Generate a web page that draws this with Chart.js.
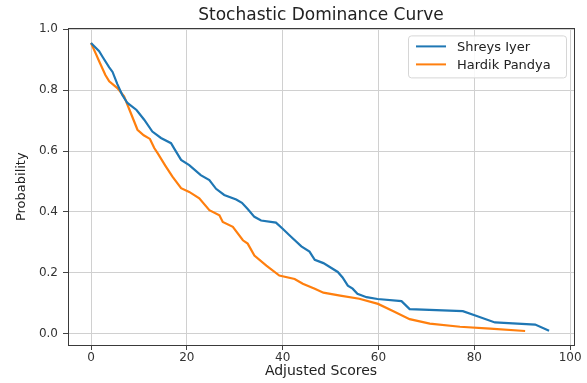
<!DOCTYPE html>
<html>
<head>
<meta charset="utf-8">
<script src="https://cdn.jsdelivr.net/npm/chart.js@4.4.1/dist/chart.umd.min.js"></script>
<style>
  html, body { margin: 0; padding: 0; background: #fff; }
  #wrap { width: 587px; height: 383px; }
</style>
</head>
<body>
<div id="wrap"><canvas id="curveChart" width="587" height="383"></canvas></div>
<script>
// Stochastic dominance (survival) curves
const iyerScores = [0, 1.7, 2.4, 3.8, 4.5, 5.5, 6.5, 7.6, 9.5, 11.1, 12.8, 14.6, 16.7, 17.5, 18.8, 20.5,
  22.9, 24.7, 26.1, 27.8, 30.3, 31.5, 32.7, 34.1, 35.5, 38.6, 40, 41.8, 43.9, 45.6, 46.7, 48.5,
  51.5, 52.5, 53.6, 54.6, 55.6, 57.5, 59.8, 64.8, 66.5, 77.6, 80.5, 84.3, 92.7, 95.6];
const iyerProb = [0.955, 0.928, 0.91, 0.875, 0.86, 0.82, 0.785, 0.758, 0.735, 0.703, 0.664, 0.643, 0.626, 0.605, 0.571, 0.554,
  0.521, 0.505, 0.476, 0.456, 0.441, 0.43, 0.41, 0.384, 0.372, 0.365, 0.345, 0.318, 0.287, 0.27, 0.243, 0.232,
  0.203, 0.185, 0.158, 0.148, 0.131, 0.12, 0.114, 0.107, 0.081, 0.074, 0.058, 0.037, 0.03, 0.01];

const pandyaScores = [0, 1.0, 1.7, 3.0, 3.8, 5.5, 6.9, 8.3, 9.7, 11.0, 12.3, 13.2, 13.9, 15.6, 17.0, 18.8,
  20.5, 22.6, 24.7, 26.8, 27.5, 29.6, 31.7, 32.7, 34.1, 36.6, 39.3, 42.5, 44.2, 46.7, 48.5, 52,
  56, 59.9, 63, 66.5, 70.7, 77, 83.3, 90.6];
const pandyaProb = [0.955, 0.92, 0.895, 0.85, 0.829, 0.807, 0.78, 0.725, 0.67, 0.652, 0.64, 0.61, 0.593, 0.55, 0.516, 0.478,
  0.466, 0.445, 0.406, 0.389, 0.367, 0.351, 0.307, 0.296, 0.257, 0.224, 0.191, 0.18, 0.164, 0.148, 0.135, 0.125,
  0.115, 0.098, 0.075, 0.048, 0.033, 0.023, 0.017, 0.009];

const seriesNames = ['Shreys Iyer', 'Hardik Pandya'];
const xTicks = [0, 20, 40, 60, 80, 100];
const yTicks = [0, 0.2, 0.4, 0.6, 0.8, 1.0];

const toPoints = (xs, ys) => xs.map((x, i) => ({ x: x, y: ys[i] }));
const FONT = "'DejaVu Sans', sans-serif";

// matplotlib-style full frame around the plot
const framePlugin = {
  id: 'frame',
  afterDatasetsDraw(chart) {
    const { ctx, chartArea: a } = chart;
    ctx.save();
    ctx.strokeStyle = '#3a3a3a';
    ctx.lineWidth = 1;
    ctx.strokeRect(Math.round(a.left) + 0.5, Math.round(a.top) + 0.5,
      Math.round(a.right - a.left), Math.round(a.bottom - a.top));
    ctx.restore();
  }
};

// boxed legend in the upper right corner
const boxLegend = {
  id: 'boxLegend',
  afterDraw(chart) {
    const { ctx, chartArea: a } = chart;
    const x0 = a.right - 166, y0 = a.top + 7, w = 158, h = 42;
    ctx.save();
    ctx.beginPath();
    ctx.roundRect(x0 + 0.5, y0 + 0.5, w, h, 3);
    ctx.fillStyle = 'rgba(255,255,255,0.85)';
    ctx.fill();
    ctx.strokeStyle = '#d6d6d6';
    ctx.lineWidth = 1;
    ctx.stroke();
    ctx.font = '13px ' + FONT;
    ctx.textBaseline = 'middle';
    chart.data.datasets.forEach((ds, i) => {
      const cy = y0 + 11 + i * 18;
      ctx.strokeStyle = ds.borderColor;
      ctx.lineWidth = 2;
      ctx.beginPath();
      ctx.moveTo(x0 + 8, cy);
      ctx.lineTo(x0 + 38, cy);
      ctx.stroke();
      ctx.fillStyle = '#222';
      ctx.fillText(ds.label, x0 + 49, cy + 1);
    });
    ctx.restore();
  }
};

new Chart(document.getElementById('curveChart'), {
  type: 'line',
  data: {
    datasets: [
      {
        label: seriesNames[0],
        data: toPoints(iyerScores, iyerProb),
        borderColor: '#1f77b4',
        borderWidth: 2.2,
        pointRadius: 0,
        tension: 0
      },
      {
        label: seriesNames[1],
        data: toPoints(pandyaScores, pandyaProb),
        borderColor: '#ff7f0e',
        borderWidth: 2.2,
        pointRadius: 0,
        tension: 0
      }
    ]
  },
  options: {
    responsive: false,
    animation: false,
    events: [],
    layout: { padding: { left: 0, right: 13, top: 0, bottom: 0 } },
    plugins: {
      legend: { display: false },
      tooltip: { enabled: false },
      title: {
        display: true,
        fullSize: false,
        text: 'Stochastic Dominance Curve',
        color: '#222',
        font: { family: FONT, size: 17, weight: 'normal' },
        padding: { top: 5, bottom: 3 }
      }
    },
    scales: {
      x: {
        type: 'linear',
        min: -4.8,
        max: 100.8,
        afterBuildTicks: s => { s.ticks = xTicks.map(v => ({ value: v })); },
        afterFit: s => { s.height = 38; },
        border: { display: false },
        grid: { color: '#d0d0d0', lineWidth: 1, tickLength: 5, tickColor: '#444' },
        ticks: {
          color: '#333',
          padding: 1,
          maxRotation: 0,
          font: { family: FONT, size: 12 },
          callback: v => String(v)
        },
        title: {
          display: true,
          text: 'Adjusted Scores',
          color: '#222',
          font: { family: FONT, size: 14 },
          padding: { top: 0, bottom: 3 }
        }
      },
      y: {
        type: 'linear',
        min: -0.037,
        max: 1.003,
        afterBuildTicks: s => { s.ticks = yTicks.map(v => ({ value: v })); },
        afterFit: s => { s.width = 68; },
        border: { display: false },
        grid: { color: '#d0d0d0', lineWidth: 1, tickLength: 5, tickColor: '#444' },
        ticks: {
          color: '#333',
          padding: 5,
          font: { family: FONT, size: 12 },
          callback: v => v.toFixed(1)
        },
        title: {
          display: true,
          text: 'Probability',
          color: '#222',
          font: { family: FONT, size: 13 },
          padding: { top: 14, bottom: 0 }
        }
      }
    }
  },
  plugins: [framePlugin, boxLegend]
});
</script>
</body>
</html>
